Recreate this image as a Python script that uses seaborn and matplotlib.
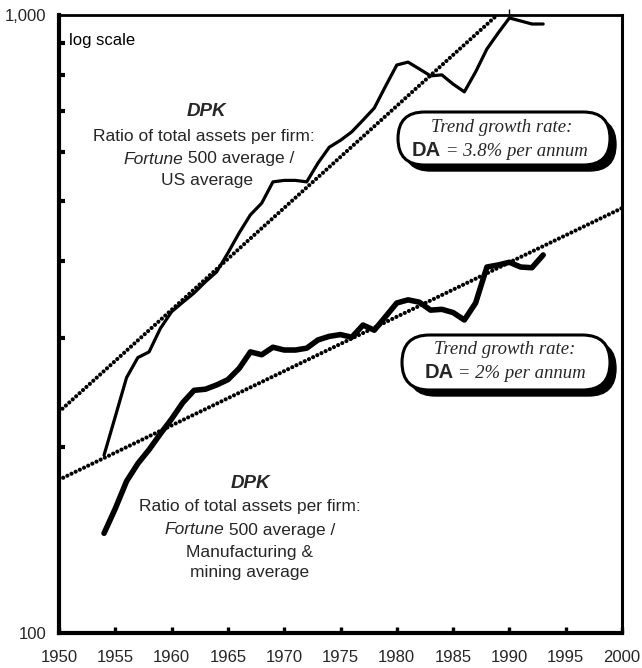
import numpy as np
import pandas as pd
import seaborn as sns
import matplotlib
matplotlib.use("Agg")
import matplotlib.pyplot as plt
import matplotlib.transforms as mtransforms
from matplotlib.patches import FancyBboxPatch
from matplotlib.offsetbox import TextArea, HPacker, AnnotationBbox
from matplotlib.ticker import FixedLocator, NullFormatter, FixedFormatter

# ---------------- data ----------------
years = list(range(1954, 1994))
us_ratio = [194, 224, 259, 279, 285, 311, 331, 343, 355, 370,
            384, 412, 444, 475, 496, 537, 540, 540, 537, 576,
            611, 627, 647, 676, 707, 767, 830, 839, 818, 797,
            800, 773, 751, 809, 881, 935, 989, 978, 967, 967]
mfg_ratio = [145, 159, 176, 188, 198, 210, 222, 236, 247, 248,
             252, 257, 268, 285, 282, 290, 287, 287, 289, 298,
             302, 304, 301, 315, 309, 325, 342, 346, 343, 333,
             334, 330, 321, 342, 391, 394, 398, 391, 390, 409]
trend_us_years = [1950, 1990]
trend_us = [228, 1042]
trend_mfg_years = [1950, 2000]
trend_mfg = [177, 487]
x_ticks = [1950, 1955, 1960, 1965, 1970, 1975, 1980, 1985, 1990, 1995, 2000]
y_major = [100, 1000]
y_major_labels = ["100", "1,000"]
y_minor = [200, 300, 400, 500, 600, 700, 800, 900]

# ---------------- style ----------------
sns.set_style("white")
plt.rcParams['font.family'] = ['Liberation Sans', 'DejaVu Sans']

W, H, DPI = 642, 668, 100
fig = plt.figure(figsize=(W / DPI, H / DPI), dpi=DPI)
ax = fig.add_axes([59 / W, (H - 633) / H, (622 - 59) / W, (633 - 15) / H])

px = mtransforms.Affine2D().scale(1 / DPI) + fig.dpi_scale_trans


def P(x, y):
    return (x, H - y)


dot_style = dict(color='black', linewidth=3.0, linestyle=(0, (0.01, 1.1)),
                 dash_capstyle='round')
ax.plot(trend_us_years, trend_us, zorder=2, **dot_style)
ax.plot(trend_mfg_years, trend_mfg, zorder=2, **dot_style)

df_us = pd.DataFrame({'year': years, 'value': us_ratio})
df_mfg = pd.DataFrame({'year': years, 'value': mfg_ratio})
sns.lineplot(data=df_us, x='year', y='value', ax=ax, color='black',
             linewidth=2.3, zorder=3)
sns.lineplot(data=df_mfg, x='year', y='value', ax=ax, color='black',
             linewidth=4.0, zorder=3, solid_capstyle='round')

ax.set_yscale('log')
ax.set_xlim(1950, 2000)
ax.set_ylim(100, 1000)
ax.set_xlabel('')
ax.set_ylabel('')

ax.xaxis.set_major_locator(FixedLocator(x_ticks))
ax.xaxis.set_major_formatter(FixedFormatter([str(t) for t in x_ticks]))
ax.yaxis.set_major_locator(FixedLocator(y_major))
ax.yaxis.set_major_formatter(FixedFormatter(y_major_labels))
ax.yaxis.set_minor_locator(FixedLocator(y_minor))
ax.yaxis.set_minor_formatter(NullFormatter())
ax.xaxis.set_minor_locator(FixedLocator([]))

ax.tick_params(axis='x', which='major', direction='in', length=4.5, width=2.4,
               pad=12, labelsize=12, bottom=True, top=False, color='black')
ax.tick_params(axis='y', which='major', direction='in', length=0, width=0,
               pad=9, labelsize=12, left=True, right=False)
ax.tick_params(axis='y', which='minor', direction='in', length=4, width=3.0,
               left=True, right=False, color='black')

for side, lw in [('left', 3.0), ('bottom', 3.0), ('top', 2.0), ('right', 2.2)]:
    ax.spines[side].set_visible(True)
    ax.spines[side].set_linewidth(lw)
    ax.spines[side].set_color('black')

sec = ax.secondary_xaxis('top')
sec.set_xticks([1990])
sec.set_xticklabels([''])
sec.tick_params(direction='out', length=4, width=1, color='black')
for s in sec.spines.values():
    s.set_visible(False)

# ---------------- annotations ----------------
sans = dict(fontfamily=['Liberation Sans', 'DejaVu Sans'], color='black')

ax.text(*P(69, 40), 'log scale', transform=px, fontsize=12, ha='left',
        va='center', **sans)


def centered_line(x, y, pieces, zorder=6):
    areas = [TextArea(t, textprops=props) for t, props in pieces]
    box = HPacker(children=areas, align='baseline', pad=0, sep=0)
    ab = AnnotationBbox(box, P(x, y), xycoords=px, frameon=False,
                        box_alignment=(0.5, 0.5), pad=0, zorder=zorder,
                        annotation_clip=False)
    ax.add_artist(ab)


lab = dict(fontsize=12.5, fontfamily=['Liberation Sans', 'DejaVu Sans'])
lab_it = dict(fontsize=12.5, fontfamily=['Liberation Sans', 'DejaVu Sans'],
              style='italic')
dpk = dict(fontsize=13.5, fontfamily=['Liberation Sans', 'DejaVu Sans'],
           style='italic', fontweight='bold')

# upper block
centered_line(206, 112, [('DPK', dpk)])
centered_line(204, 136, [('Ratio of total assets per firm:', lab)])
centered_line(209, 159, [('Fortune', lab_it), (' 500 average /', lab)])
centered_line(207, 181, [('US average', lab)])

# lower block
centered_line(250, 483, [('DPK', dpk)])
centered_line(250, 507, [('Ratio of total assets per firm:', lab)])
centered_line(250, 530, [('Fortune', lab_it), (' 500 average /', lab)])
centered_line(250, 552, [('Manufacturing &', lab)])
centered_line(250, 573, [('mining average', lab)])


def pill(x0, y0, x1, y1):
    w, h = x1 - x0, y1 - y0
    r = h / 2
    shadow = FancyBboxPatch(P(x0 + 6, y1 + 6), w, h,
                            boxstyle=f"round,pad=0,rounding_size={r}",
                            transform=px, facecolor='black', edgecolor='black',
                            linewidth=1, zorder=5, clip_on=False)
    main = FancyBboxPatch(P(x0, y1), w, h,
                          boxstyle=f"round,pad=0,rounding_size={r}",
                          transform=px, facecolor='white', edgecolor='black',
                          linewidth=2.2, zorder=5.5, clip_on=False)
    ax.add_patch(shadow)
    ax.add_patch(main)


serif_it = dict(fontsize=13.5, fontfamily=['Liberation Serif', 'DejaVu Serif'],
                style='italic')
da = dict(fontsize=14.5, fontfamily=['Liberation Sans', 'DejaVu Sans'],
          fontweight='bold', style='normal')

pill(398, 112, 610, 165)
centered_line(502, 127, [('Trend growth rate:', serif_it)])
centered_line(500, 151, [('DA', da), (' = 3.8% per annum', serif_it)])

pill(402, 335, 610, 390)
centered_line(505, 350, [('Trend growth rate:', serif_it)])
centered_line(505, 372, [('DA', da), (' = 2% per annum', serif_it)])

fig.savefig('out.png', dpi=DPI)
